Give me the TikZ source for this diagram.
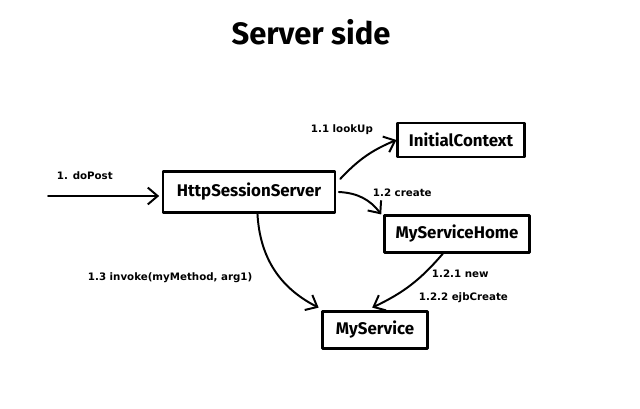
\documentclass[tikz,border=0pt]{standalone}
\usepackage{fontspec}
\setmainfont{Fira Sans}
\newfontfamily\lblfont{DejaVu Sans}
\usetikzlibrary{arrows.meta,positioning}

\begin{document}
\begin{tikzpicture}[
  obj/.style={draw,line width=1.5pt,line join=round,rectangle,inner sep=0pt,
              font=\fontsize{12}{14}\selectfont\bfseries},
  msg/.style={-{Straight Barb[length=7pt,width=12pt,line width=1.4pt]},
              line width=1.4pt,line cap=round},
  lbl/.style={anchor=west,font=\lblfont\fontsize{7.3}{8}\selectfont\bfseries}
]
  \useasboundingbox (0,0) rectangle (16,10.225);

  % Title
  \node[font=\fontsize{22}{24}\selectfont\bfseries] (title) at (7.775,9.425) {Server side};

  % Objects
  \node[obj,minimum width=4.3cm,minimum height=1.025cm] (srv) at (6.225,5.425) {HttpSessionServer};
  \node[obj,minimum width=3.175cm,minimum height=0.85cm] (ctx) at (11.525,6.725) {InitialContext};
  \node[obj,minimum width=3.625cm,minimum height=0.925cm] (home) at (11.425,4.375) {MyServiceHome};
  \node[obj,minimum width=2.625cm,minimum height=0.925cm] (svc) at (9.375,1.975) {MyService};

  % Incoming call
  \coordinate (in) at (1.2,5.325);
  \draw[msg] (in) -- ([xshift=-2pt]srv.west |- in);
  \node[lbl] (dopost) at (1.3,5.825) {1. doPost};

  % Messages
  \draw[msg] ([xshift=3pt,yshift=-6pt]srv.north east) to[bend left=12] (ctx.west);
  \node[lbl] (lookup) at (7.65,6.975) {1.1 lookUp};
  \draw[msg] ([xshift=2pt]srv.east) to[bend left=25] ([xshift=-2pt]home.165);
  \node[lbl] (create) at (9.2,5.4) {1.2 create};
  \draw[msg] ([xshift=6pt]srv.south) to[bend right=30] ([xshift=-2pt,yshift=2pt]svc.north west);
  \node[lbl] (invoke) at (2.075,3.275) {1.3 invoke(myMethod, arg1)};
  \draw[msg] ([xshift=-10pt]home.south) to[bend left=12] ([xshift=-2pt,yshift=2pt]svc.north);
  \node[lbl] (new) at (10.675,3.375) {1.2.1 new};
  \node[lbl] (ejb) at (10.35,2.775) {1.2.2 ejbCreate};
\end{tikzpicture}
\end{document}
